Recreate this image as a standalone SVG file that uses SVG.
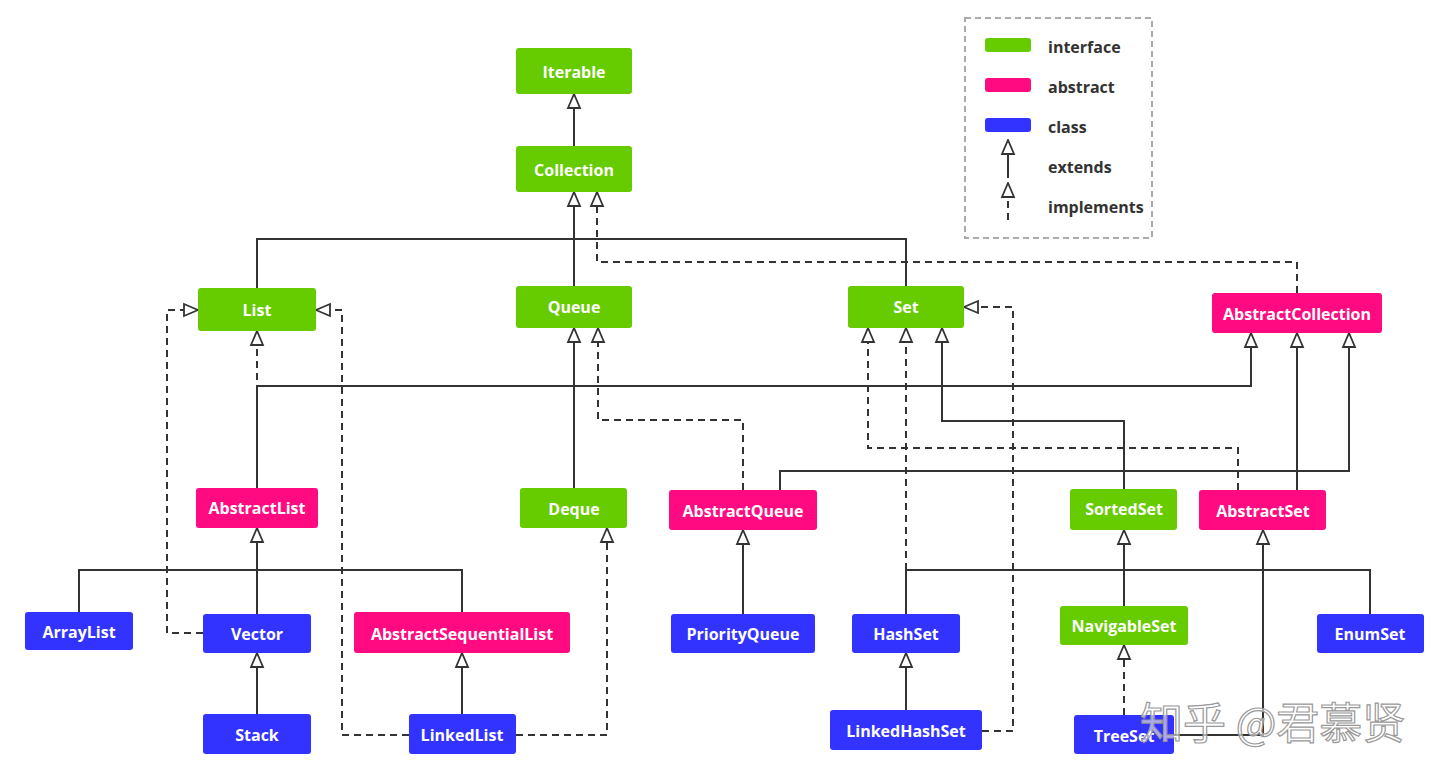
<svg xmlns="http://www.w3.org/2000/svg" width="1448" height="779" viewBox="0 0 1448 779">
<style>
.i{fill:#66CC00}.a{fill:#FF0A80}.c{fill:#3333FF}
.t{fill:#fff;font-family:"Open Sans","Noto Sans",sans-serif;font-weight:bold;font-size:16px;text-anchor:middle;dominant-baseline:central}
.l{fill:#333;font-family:"Open Sans","Noto Sans",sans-serif;font-weight:bold;font-size:16px;dominant-baseline:central}
.e{fill:none;stroke:#333;stroke-width:2}
.d{fill:none;stroke:#333;stroke-width:2;stroke-dasharray:7,5}
</style>
<defs>
<marker id="h" viewBox="0 0 16 16" refX="15" refY="8" markerWidth="16" markerHeight="16" markerUnits="userSpaceOnUse" orient="auto">
<path d="M1,2 L15,8 L1,14 Z" fill="#fff" stroke="#333" stroke-width="1.8"/>
</marker>
</defs>
<rect width="1448" height="779" fill="#fff"/>
<g id="legend">
<rect x="965" y="18" width="187" height="220" fill="none" stroke="#aaa" stroke-width="2" stroke-dasharray="6,4"/>
<rect x="985" y="38" width="46" height="14" rx="3" class="i"/>
<rect x="985" y="78" width="46" height="14" rx="3" class="a"/>
<rect x="985" y="118" width="46" height="14" rx="3" class="c"/>
<text x="1048" y="47" class="l">interface</text>
<text x="1048" y="87" class="l">abstract</text>
<text x="1048" y="127" class="l">class</text>
<text x="1048" y="167" class="l">extends</text>
<text x="1048" y="207" class="l">implements</text>
<path d="M1008,178 V140" class="e" marker-end="url(#h)"/>
<path d="M1008,220 V183" class="d" marker-end="url(#h)"/>
</g>
<g id="connectors">
<path d="M574,146 V94" class="e" marker-end="url(#h)"/>
<path d="M257,288 V239 H906 V286" class="e"/>
<path d="M574,286 V192" class="e" marker-end="url(#h)"/>
<path d="M1297,293 V262 H597 V192" class="d" marker-end="url(#h)"/>
<path d="M257,488 V331" class="d" marker-end="url(#h)"/>
<path d="M257,488 V386 H1251 V333" class="e" marker-end="url(#h)"/>
<path d="M743,490 V420 H598 V328" class="d" marker-end="url(#h)"/>
<path d="M574,488 V328" class="e" marker-end="url(#h)"/>
<path d="M780,490 V471 H1349 V333" class="e" marker-end="url(#h)"/>
<path d="M1124,489 V421 H942 V328" class="e" marker-end="url(#h)"/>
<path d="M1238,490 V448 H868 V328" class="d" marker-end="url(#h)"/>
<path d="M1297,490 V333" class="e" marker-end="url(#h)"/>
<path d="M906,614 V570 H1370 V614" class="e"/>
<path d="M906,570 V328" class="d" marker-end="url(#h)"/>
<path d="M1174,735 H1263 V530" class="e" marker-end="url(#h)"/>
<path d="M906,710 V653" class="e" marker-end="url(#h)"/>
<path d="M982,731 H1013 V307 H964" class="d" marker-end="url(#h)"/>
<path d="M1124,606 V530" class="e" marker-end="url(#h)"/>
<path d="M1124,715 V645" class="d" marker-end="url(#h)"/>
<path d="M79,612 V570 H462 V612" class="e"/>
<path d="M257,614 V528" class="e" marker-end="url(#h)"/>
<path d="M203,633 H167 V310 H198" class="d" marker-end="url(#h)"/>
<path d="M257,714 V653" class="e" marker-end="url(#h)"/>
<path d="M462,714 V653" class="e" marker-end="url(#h)"/>
<path d="M409,735 H342 V310 H316" class="d" marker-end="url(#h)"/>
<path d="M516,735 H607 V528" class="d" marker-end="url(#h)"/>
<path d="M743,614 V530" class="e" marker-end="url(#h)"/>
</g>
<g id="Iterable"><rect x="516" y="48" width="116" height="46" rx="3" class="i"/><text x="574" y="72" class="t">Iterable</text></g>
<g id="Collection"><rect x="516" y="146" width="116" height="46" rx="3" class="i"/><text x="574" y="170" class="t">Collection</text></g>
<g id="List"><rect x="198" y="288" width="118" height="43" rx="3" class="i"/><text x="257" y="310" class="t">List</text></g>
<g id="Queue"><rect x="516" y="286" width="116" height="42" rx="3" class="i"/><text x="574" y="307" class="t">Queue</text></g>
<g id="Set"><rect x="848" y="286" width="116" height="42" rx="3" class="i"/><text x="906" y="307" class="t">Set</text></g>
<g id="AbstractCollection"><rect x="1212" y="293" width="170" height="40" rx="3" class="a"/><text x="1297" y="314" class="t">AbstractCollection</text></g>
<g id="AbstractList"><rect x="196" y="488" width="122" height="40" rx="3" class="a"/><text x="257" y="508" class="t">AbstractList</text></g>
<g id="Deque"><rect x="520" y="488" width="107" height="40" rx="3" class="i"/><text x="574" y="509" class="t">Deque</text></g>
<g id="AbstractQueue"><rect x="669" y="490" width="148" height="40" rx="3" class="a"/><text x="743" y="511" class="t">AbstractQueue</text></g>
<g id="SortedSet"><rect x="1070" y="489" width="107" height="41" rx="3" class="i"/><text x="1124" y="509" class="t">SortedSet</text></g>
<g id="AbstractSet"><rect x="1199" y="490" width="127" height="40" rx="3" class="a"/><text x="1263" y="511" class="t">AbstractSet</text></g>
<g id="ArrayList"><rect x="25" y="612" width="108" height="38" rx="3" class="c"/><text x="79" y="632" class="t">ArrayList</text></g>
<g id="Vector"><rect x="203" y="614" width="108" height="39" rx="3" class="c"/><text x="257" y="634" class="t">Vector</text></g>
<g id="AbstractSequentialList"><rect x="354" y="612" width="216" height="41" rx="3" class="a"/><text x="462" y="634" class="t">AbstractSequentialList</text></g>
<g id="PriorityQueue"><rect x="671" y="614" width="144" height="39" rx="3" class="c"/><text x="743" y="634" class="t">PriorityQueue</text></g>
<g id="HashSet"><rect x="852" y="614" width="108" height="39" rx="3" class="c"/><text x="906" y="634" class="t">HashSet</text></g>
<g id="NavigableSet"><rect x="1060" y="606" width="128" height="39" rx="3" class="i"/><text x="1124" y="626" class="t">NavigableSet</text></g>
<g id="EnumSet"><rect x="1317" y="614" width="107" height="39" rx="3" class="c"/><text x="1370" y="634" class="t">EnumSet</text></g>
<g id="Stack"><rect x="203" y="714" width="108" height="40" rx="3" class="c"/><text x="257" y="735" class="t">Stack</text></g>
<g id="LinkedList"><rect x="409" y="714" width="107" height="40" rx="3" class="c"/><text x="462" y="735" class="t">LinkedList</text></g>
<g id="LinkedHashSet"><rect x="830" y="710" width="152" height="40" rx="3" class="c"/><text x="906" y="731" class="t">LinkedHashSet</text></g>
<g id="TreeSet"><rect x="1074" y="715" width="100" height="39" rx="3" class="c"/><text x="1124" y="736" class="t">TreeSet</text></g>
<text x="1140" y="720" font-family="'Noto Sans CJK SC',sans-serif" font-size="43" fill="#fff" fill-opacity="0.6" stroke="#999" stroke-width="1.2" dominant-baseline="central">知乎 @君慕贤</text>
</svg>
